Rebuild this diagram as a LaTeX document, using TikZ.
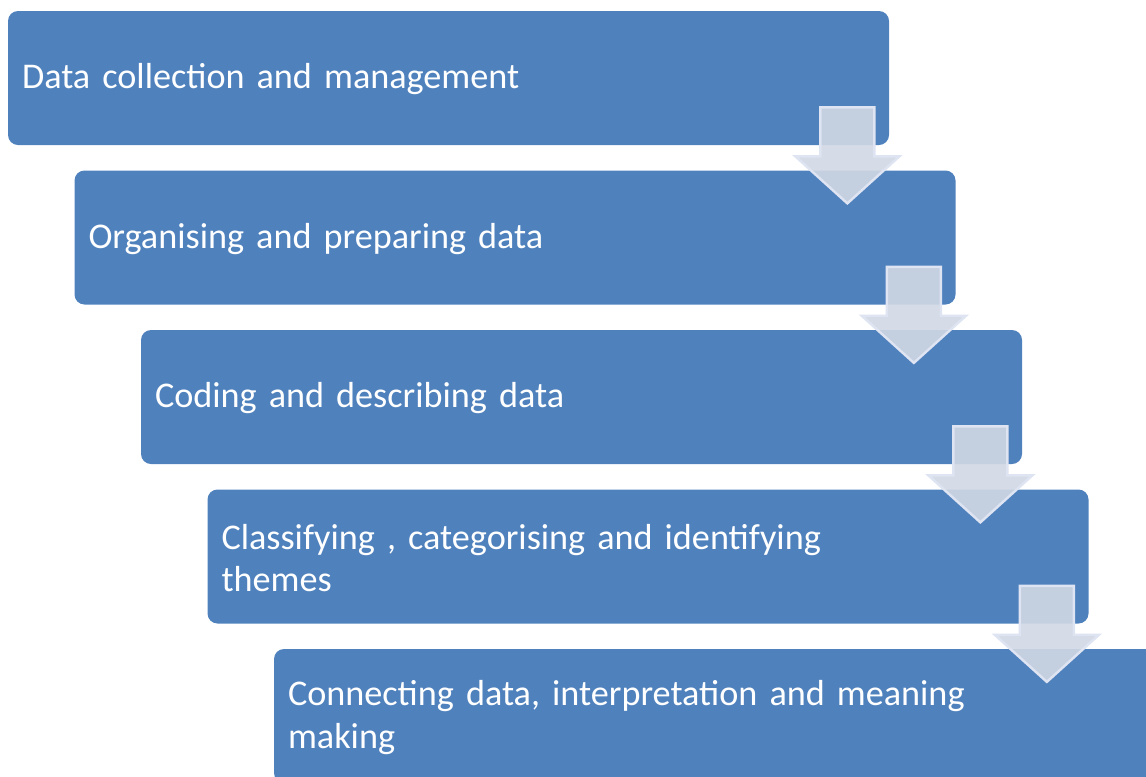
\documentclass[tikz,border=0pt]{standalone}
\usepackage{fontspec}
\setmainfont{Carlito}
\usetikzlibrary{positioning}

\definecolor{boxblue}{RGB}{79,129,189}
\definecolor{arrowfill}{RGB}{209,216,228}
\definecolor{arrowedge}{RGB}{222,228,241}

\begin{document}
\begin{tikzpicture}[stepbox/.style = {fill=boxblue, rounded corners=0.2cm, minimum width=17.62cm, minimum height=2.68cm, inner sep=0},
        steptext/.style = {anchor=west, text=white, text width=14cm, align=left, inner sep=0, font=\fontsize{20.6}{24}\selectfont},
        flow/.style = {fill=arrowfill, fill opacity=0.9, draw=arrowedge, line width=1.4pt, line join=miter}]
        \clip (0,0) rectangle (22.92,-15.52);

        % the five steps, each one shifted down and to the right
        \foreach \i/\txt in {1/Data collection and management,
                2/Organising and preparing data,
                3/Coding and describing data,
                4/{Classifying , categorising and identifying themes},
                5/{Connecting data, interpretation and meaning making}} {
                \node [stepbox] (b\i) at ({8.97+(\i-1)*1.33}, {-1.56-(\i-1)*3.19}) {};
                \node [steptext] (l\i) at ([xshift=0.28cm, yshift=-0.03cm]b\i.west) {\txt};
        }

        % block arrows from one step to the next
        \foreach \i in {1,...,4} {
                \coordinate (t\i) at ([xshift=-0.84cm, yshift=-1.16cm]b\i.south east);
                \draw [flow] (t\i) -- ++(1.04,0.94) -- ++(-0.5,0) -- ++(0,0.98)
                        -- ++(-1.08,0) -- ++(0,-0.98) -- ++(-0.5,0) -- cycle;
        }
\end{tikzpicture}
\end{document}
